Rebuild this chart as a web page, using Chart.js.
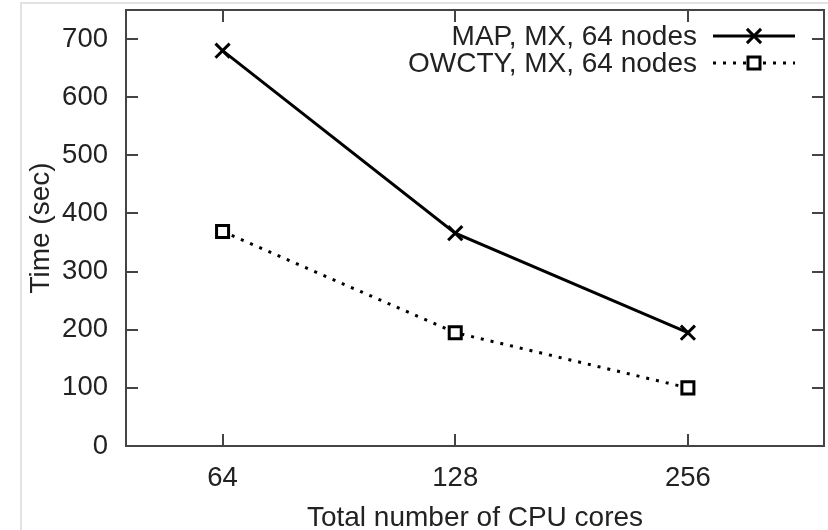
<!DOCTYPE html>
<html>
<head>
<meta charset="utf-8">
<script src="https://cdn.jsdelivr.net/npm/chart.js@4/dist/chart.umd.min.js"></script>
<style>
  html, body { margin: 0; padding: 0; background: #fff; }
  #wrap { position: relative; width: 828px; height: 530px; }
  #edge { position: absolute; left: 20px; top: 2px; right: 0; bottom: 0;
          border-left: 2px solid #e2e2e2; border-top: 2px solid #e2e2e2; }
  canvas { position: absolute; left: 0; top: 0; }
</style>
</head>
<body>
<div id="wrap">
  <div id="edge"></div>
  <canvas id="chart" width="828" height="530"></canvas>
</div>
<script>
var cores = [64, 128, 256];
var mapTimes = [680, 366, 195];
var owctyTimes = [369, 195, 100];
var yTicks = [0, 100, 200, 300, 400, 500, 600, 700];
var seriesNames = ["MAP, MX, 64 nodes", "OWCTY, MX, 64 nodes"];

var FONT = "Liberation Sans, Arial, Helvetica, sans-serif";
var TXT = "#222";

function points(ys) {
  return cores.map(function (c, i) { return { x: c, y: ys[i] }; });
}

// frame + inward ticks on all four sides, like gnuplot
var framePlugin = {
  id: 'frame',
  beforeDatasetsDraw: function (chart) {
    var ctx = chart.ctx, a = chart.chartArea;
    var xs = chart.scales.x, ys = chart.scales.y;
    var tl = 12;
    ctx.save();
    ctx.strokeStyle = "#444";
    ctx.lineWidth = 2;
    ctx.beginPath();
    xs.ticks.forEach(function (t) {
      var px = Math.round(xs.getPixelForValue(t.value));
      ctx.moveTo(px, a.bottom); ctx.lineTo(px, a.bottom - tl);
      ctx.moveTo(px, a.top); ctx.lineTo(px, a.top + tl);
    });
    ys.ticks.forEach(function (t) {
      var py = Math.round(ys.getPixelForValue(t.value));
      ctx.moveTo(a.left, py); ctx.lineTo(a.left + tl, py);
      ctx.moveTo(a.right, py); ctx.lineTo(a.right - tl, py);
    });
    ctx.stroke();
    ctx.strokeRect(a.left, a.top, a.right - a.left, a.bottom - a.top);
    ctx.restore();
  }
};

// legend: text on the left, line sample on the right
var keyPlugin = {
  id: 'key',
  afterDatasetsDraw: function (chart) {
    var ctx = chart.ctx, a = chart.chartArea;
    ctx.save();
    ctx.font = "28px " + FONT;
    ctx.fillStyle = TXT;
    ctx.textAlign = "right";
    ctx.textBaseline = "middle";
    chart.data.datasets.forEach(function (ds, i) {
      var y = a.top + 26 + i * 27;
      var tx = a.right - 127;
      ctx.fillText(ds.label, tx, y + 1);
      var x0 = tx + 16, x1 = tx + 98, xm = (x0 + x1) / 2;
      ctx.strokeStyle = ds.borderColor;
      ctx.lineWidth = ds.borderWidth;
      ctx.setLineDash(ds.borderDash || []);
      ctx.beginPath(); ctx.moveTo(x0, y); ctx.lineTo(x1, y); ctx.stroke();
      ctx.setLineDash([]);
      ctx.lineWidth = ds.pointBorderWidth;
      ctx.strokeStyle = ds.pointBorderColor;
      ctx.fillStyle = ds.pointBackgroundColor;
      Chart.helpers.drawPoint(ctx, { pointStyle: ds.pointStyle, radius: ds.pointRadius, borderWidth: ds.pointBorderWidth, rotation: 0 }, xm, y);
      ctx.fillStyle = TXT;
    });
    ctx.restore();
  }
};

function noPad(s) {
  s.paddingTop = 0; s.paddingBottom = 0; s.paddingLeft = 0; s.paddingRight = 0;
}

new Chart(document.getElementById("chart"), {
  type: 'line',
  data: {
    datasets: [{
      label: seriesNames[0],
      data: points(mapTimes),
      borderColor: "#000",
      borderWidth: 3,
      pointStyle: 'crossRot',
      pointRadius: 10,
      pointBorderWidth: 3,
      pointBorderColor: "#000",
      pointBackgroundColor: "#000",
      tension: 0
    }, {
      label: seriesNames[1],
      data: points(owctyTimes),
      borderColor: "#000",
      borderWidth: 3,
      borderDash: [3, 7],
      pointStyle: 'rect',
      pointRadius: 8.5,
      pointBorderWidth: 3,
      pointBorderColor: "#000",
      pointBackgroundColor: "#fff",
      tension: 0
    }]
  },
  options: {
    responsive: false,
    animation: false,
    layout: { autoPadding: false, padding: { top: 10, right: 4, left: 0, bottom: 0 } },
    plugins: { legend: { display: false }, tooltip: { enabled: false } },
    scales: {
      x: {
        type: 'logarithmic',
        min: 48,
        max: 384,
        afterBuildTicks: function (s) { s.ticks = cores.map(function (v) { return { value: v }; }); },
        afterFit: function (s) { s.height = 84; noPad(s); },
        grid: { display: false, drawTicks: false },
        border: { display: false },
        ticks: {
          callback: function (v) { return String(v); },
          font: { family: FONT, size: 27.5 }, color: TXT, padding: 16,
          maxRotation: 0, autoSkip: false
        },
        title: {
          display: true, text: "Total number of CPU cores",
          font: { family: FONT, size: 28, lineHeight: 1 }, color: TXT,
          padding: { top: 0, bottom: -2 }
        }
      },
      y: {
        min: 0,
        max: 750,
        afterBuildTicks: function (s) { s.ticks = yTicks.map(function (v) { return { value: v }; }); },
        afterFit: function (s) { s.width = 126; noPad(s); },
        grid: { display: false, drawTicks: false },
        border: { display: false },
        ticks: { font: { family: FONT, size: 27.5 }, color: TXT, padding: 18 },
        title: {
          display: true, text: "Time (sec)",
          font: { family: FONT, size: 28, lineHeight: 1 }, color: TXT,
          padding: { top: 27, bottom: 0 }
        }
      }
    }
  },
  plugins: [framePlugin, keyPlugin]
});
</script>
</body>
</html>
